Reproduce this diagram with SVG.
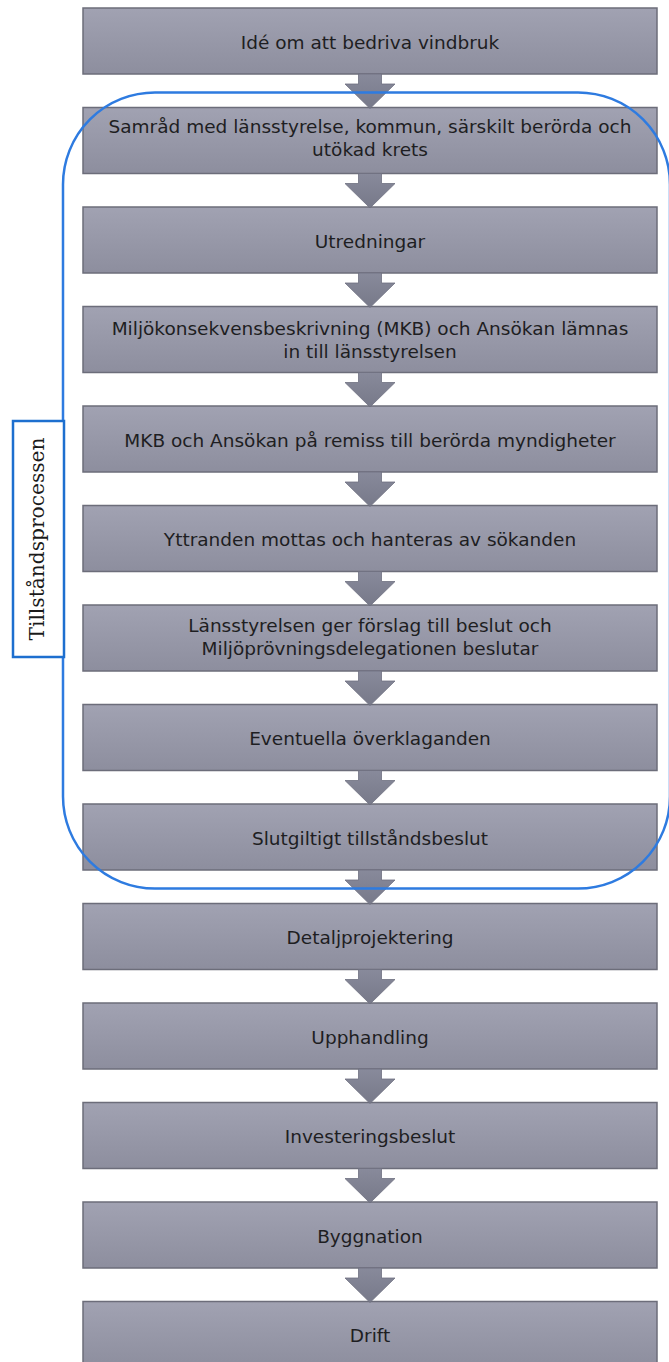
<svg xmlns="http://www.w3.org/2000/svg" xmlns:xlink="http://www.w3.org/1999/xlink" width="669" height="1362" viewBox="0 0 669 1362">
<defs>
<linearGradient id="boxGrad" x1="0" y1="0" x2="0" y2="1">
<stop offset="0" stop-color="#a1a2b2"/>
<stop offset="1" stop-color="#8d8e9e"/>
</linearGradient>
<linearGradient id="arrGrad" x1="0" y1="0" x2="0" y2="1">
<stop offset="0" stop-color="#888a9b"/>
<stop offset="1" stop-color="#777989"/>
</linearGradient>
<path id="arrow" d="M358.5,0 L381.5,0 L381.5,10 L395,10 L370,34.5 L345,10 L358.5,10 Z"/>
</defs>
<style>
.box{fill:url(#boxGrad);stroke:#6c6d7a;stroke-width:1.5}
.lbl{font-family:"DejaVu Sans","Open Sans",sans-serif;font-size:18.5px;fill:#1e1e22;text-anchor:middle}
.arr{fill:url(#arrGrad);stroke:#6e7080;stroke-width:0.8}
.frame{fill:none;stroke:#2e7be0;stroke-width:2.5}
.tag{fill:#ffffff;stroke:#1d6fcf;stroke-width:2.5}
.tagtxt{font-family:"DejaVu Serif","Liberation Serif",serif;font-size:19.5px;fill:#1a1a1a;text-anchor:middle}
</style>
<rect width="669" height="1362" fill="#ffffff"/>
<g id="n0"><rect class="box" x="83" y="8" width="574" height="66"/><text class="lbl" x="370" y="48.5">Idé om att bedriva vindbruk</text></g>
<g id="n1"><rect class="box" x="83" y="107.5" width="574" height="66"/><text class="lbl" x="370" y="133">Samråd med länsstyrelse, kommun, särskilt berörda och</text><text class="lbl" x="370" y="156">utökad krets</text></g>
<g id="n2"><rect class="box" x="83" y="207" width="574" height="66"/><text class="lbl" x="370" y="247.5">Utredningar</text></g>
<g id="n3"><rect class="box" x="83" y="306.5" width="574" height="66"/><text class="lbl" x="370" y="335">Miljökonsekvensbeskrivning (MKB) och Ansökan lämnas</text><text class="lbl" x="370" y="358">in till länsstyrelsen</text></g>
<g id="n4"><rect class="box" x="83" y="406" width="574" height="66"/><text class="lbl" x="370" y="446.5">MKB och Ansökan på remiss till berörda myndigheter</text></g>
<g id="n5"><rect class="box" x="83" y="505.5" width="574" height="66"/><text class="lbl" x="370" y="546">Yttranden mottas och hanteras av sökanden</text></g>
<g id="n6"><rect class="box" x="83" y="605" width="574" height="66"/><text class="lbl" x="370" y="631.5">Länsstyrelsen ger förslag till beslut och</text><text class="lbl" x="370" y="654.5">Miljöprövningsdelegationen beslutar</text></g>
<g id="n7"><rect class="box" x="83" y="704.5" width="574" height="66"/><text class="lbl" x="370" y="745">Eventuella överklaganden</text></g>
<g id="n8"><rect class="box" x="83" y="804" width="574" height="66"/><text class="lbl" x="370" y="844.5">Slutgiltigt tillståndsbeslut</text></g>
<g id="n9"><rect class="box" x="83" y="903.5" width="574" height="66"/><text class="lbl" x="370" y="944">Detaljprojektering</text></g>
<g id="n10"><rect class="box" x="83" y="1003" width="574" height="66"/><text class="lbl" x="370" y="1043.5">Upphandling</text></g>
<g id="n11"><rect class="box" x="83" y="1102.5" width="574" height="66"/><text class="lbl" x="370" y="1143">Investeringsbeslut</text></g>
<g id="n12"><rect class="box" x="83" y="1202" width="574" height="66"/><text class="lbl" x="370" y="1242.5">Byggnation</text></g>
<g id="n13"><rect class="box" x="83" y="1301.5" width="574" height="66"/><text class="lbl" x="370" y="1342">Drift</text></g>
<g id="connectors">
<use xlink:href="#arrow" class="arr" transform="translate(0,74)"/>
<use xlink:href="#arrow" class="arr" transform="translate(0,173.5)"/>
<use xlink:href="#arrow" class="arr" transform="translate(0,273)"/>
<use xlink:href="#arrow" class="arr" transform="translate(0,372.5)"/>
<use xlink:href="#arrow" class="arr" transform="translate(0,472)"/>
<use xlink:href="#arrow" class="arr" transform="translate(0,571.5)"/>
<use xlink:href="#arrow" class="arr" transform="translate(0,671)"/>
<use xlink:href="#arrow" class="arr" transform="translate(0,770.5)"/>
<use xlink:href="#arrow" class="arr" transform="translate(0,870)"/>
<use xlink:href="#arrow" class="arr" transform="translate(0,969.5)"/>
<use xlink:href="#arrow" class="arr" transform="translate(0,1069)"/>
<use xlink:href="#arrow" class="arr" transform="translate(0,1168.5)"/>
<use xlink:href="#arrow" class="arr" transform="translate(0,1268)"/>
</g>
<g id="group-frame"><rect class="frame" x="63" y="92.5" width="607" height="796" rx="92" ry="92"/></g>
<g id="group-label"><rect class="tag" x="13" y="421" width="51" height="236"/><text class="tagtxt" transform="translate(44,539) rotate(-90)" textLength="203" lengthAdjust="spacingAndGlyphs">Tillståndsprocessen</text></g>
</svg>
